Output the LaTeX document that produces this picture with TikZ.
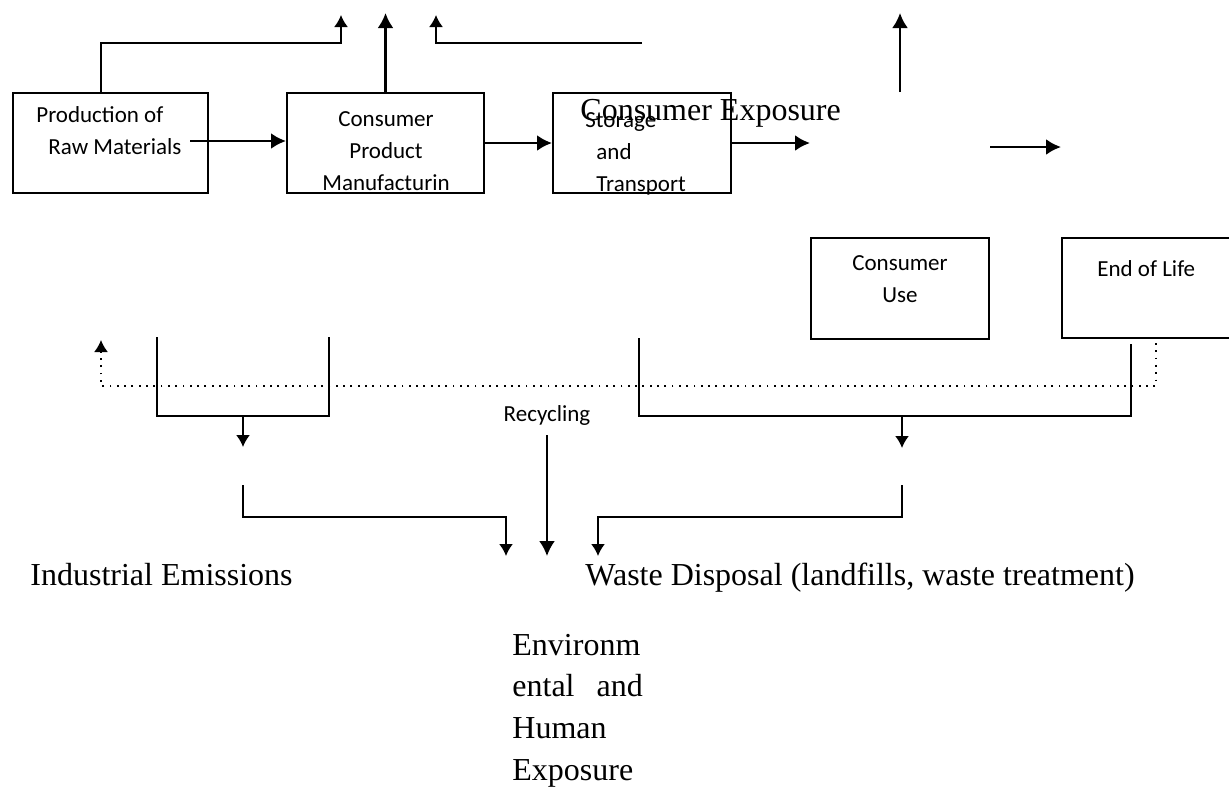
\documentclass[tikz,border=0pt]{standalone}
\usepackage{fontspec}
\setmainfont{Liberation Serif}
\newfontfamily\boxfont{Carlito}
\usetikzlibrary{positioning,arrows.meta}

\begin{document}
\begin{tikzpicture}[x=0.5pt,y=-0.5pt,
  box/.style={draw,line width=1pt,inner sep=0pt},
  boxtxt/.style={font=\boxfont\fontsize{11.5}{16}\selectfont,inner sep=0pt},
  bigtxt/.style={font=\fontsize{16}{20.8}\selectfont,inner sep=0pt},
  flow/.style={-{Latex[length=7.5pt,width=8pt]},line width=1.3pt},
  feed/.style={-{Latex[length=6pt,width=7pt]},line width=0.9pt},
  recyc/.style={-{Latex[length=6pt,width=7pt]},line width=0.9pt,dash pattern=on 0.9pt off 2.75pt}]
  \useasboundingbox (0,0) rectangle (1229,787);

  % boxes
  \node[box,minimum width=97.5pt,minimum height=50pt] (prod) at (110.5,143) {};
  \node[box,minimum width=98.5pt,minimum height=50pt] (cpm) at (385.5,143) {};
  \node[box,minimum width=89pt,minimum height=50pt] (stor) at (642,143) {};
  \node[box,minimum width=89pt,minimum height=50.5pt] (cuse) at (900,288.5) {};
  \node[box,minimum width=89pt,minimum height=50pt] (eol) at (1151,288) {};

  % texts (base = last line)
  \node[boxtxt,anchor=base west,align=left] (prodtxt) at (36,154) {Production of\\\hspace*{6pt}Raw Materials};
  \node[boxtxt,anchor=base,align=center] (cpmtxt) at (386,190) {Consumer\\Product\\Manufacturin};
  \node[boxtxt,anchor=base west,align=left] (stortxt) at (585,191) {Storage\\\hspace*{5.5pt}and\\\hspace*{5.5pt}Transport};
  \node[boxtxt,anchor=base,align=center] (usetxt) at (900,302) {Consumer\\Use};
  \node[boxtxt,anchor=base west] (eoltxt) at (1097,276) {End of Life};
  \node[boxtxt,anchor=base] (rec) at (547,421) {Recycling};
  \node[bigtxt,anchor=base west] (expo) at (580,120) {Consumer Exposure};
  \node[bigtxt,anchor=base west] (ind) at (30,585) {Industrial Emissions};
  \node[bigtxt,anchor=base west] (waste) at (585,585) {Waste Disposal (landfills, waste treatment)};
  \node[bigtxt,anchor=base west,align=left] (env) at (512,780) {Environm\\ental\hspace{11pt}and\\Human\\Exposure};

  % levels for free ends
  \coordinate (top) at (0,13);
  \coordinate (lvl) at (0,43);
  \coordinate (row) at (0,147);
  \coordinate (rawend) at (190,141);

  % main flow
  \draw[flow] (rawend) -- (rawend -| cpm.west);
  \draw[flow] (cpm.east) -- (stor.west);
  \draw[flow] (stor.east) -- (stor.east -| cuse.west);
  \draw[flow] (cuse.east |- row) -- (eol.west |- row);
  \draw[flow] (cpm.north) -- (cpm.north |- top);
  \draw[flow] (cuse.north |- stor.north) -- (cuse.north |- top);
  \draw[feed] ([xshift=-4.75pt]prod.north) |- (341,43) -- (341,15);
  \draw[feed] (stor.north |- lvl) -| (436,15);

  % lower brackets
  \draw[line width=0.9pt] (157,337) |- (329,416) -- (329,337);
  \draw[feed] (243,416) -- (243,447);
  \draw[line width=0.9pt] (639,338) |- (1131,416) -- (1131,344);
  \draw[feed] (902,416) -- (902,448);
  \draw[recyc] (1156,343) |- (101,386) -- (101,340);
  \draw[flow,line width=1.1pt] (rec.south |- 0,435) -- (rec.south |- 0,556);
  \draw[feed] (243,485) |- (506,517) -- (506,556);
  \draw[feed] (902,485) |- (598,517) -- (598,556);
\end{tikzpicture}
\end{document}
